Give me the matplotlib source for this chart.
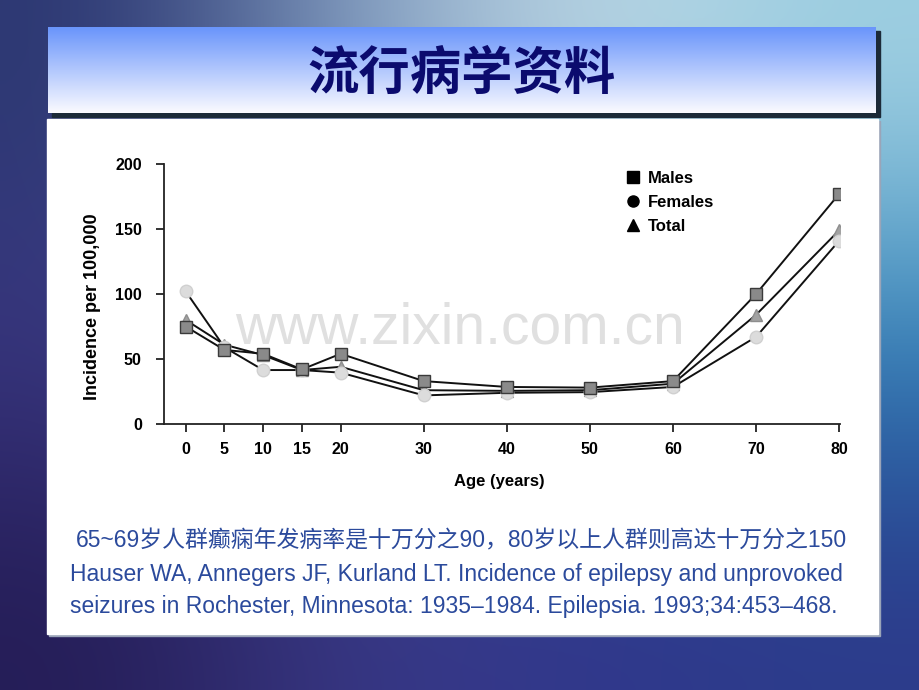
import numpy as np
import matplotlib.pyplot as plt
from matplotlib.patches import Rectangle
from matplotlib.lines import Line2D

# data (incidence per 100,000)
ages = [0, 5, 10, 15, 20, 30, 40, 50, 60, 70, 80]
males = [75, 57, 54, 42, 54, 33, 28.5, 28, 33, 100, 177]
females = [102, 59, 41.5, 41.5, 39.5, 22, 24, 24.5, 28.5, 67, 141]
total = [80, 61, 53, 41.5, 44, 26, 25.5, 26, 31, 84, 149]
yticks = [0, 50, 100, 150, 200]
series_labels = ["Males", "Females", "Total"]

title = "流行病学资料"
note = "65~69岁人群癫痫年发病率是十万分之90，80岁以上人群则高达十万分之150"
ref1 = "Hauser WA, Annegers JF, Kurland LT. Incidence of epilepsy and unprovoked"
ref2 = "seizures in Rochester, Minnesota: 1935–1984. Epilepsia. 1993;34:453–468."

W, H = 920, 690
fig = plt.figure(figsize=(W / 100, H / 100), dpi=100)

# slide background, pixel coordinates
bg = fig.add_axes([0, 0, 1, 1], zorder=0)
bg.axis("off")
grid = np.array([
    [[0x2a, 0x35, 0x70], [0x7f, 0x9c, 0xc0], [0xc6, 0xdd, 0xe8], [0x9f, 0xd0, 0xe2]],
    [[0x3a, 0x36, 0x82], [0x4a, 0x5a, 0x9a], [0x3a, 0x78, 0xb0], [0x2a, 0x80, 0xb8]],
    [[0x24, 0x1c, 0x55], [0x3a, 0x38, 0x85], [0x30, 0x34, 0x8a], [0x2c, 0x3a, 0x8a]],
]) / 255.0
bg.imshow(grid, extent=(0, W, H, 0), interpolation="bicubic", aspect="auto")

# title box with gradient + shadow
bg.add_patch(Rectangle((52, 31), 828, 86, color="#1c2a38", zorder=2))
grad = np.linspace(0, 1, 64)[:, None, None]
top_c = np.array([0x6a, 0x95, 0xfb]) / 255.0
bot_c = np.array([0xfa, 0xfa, 0xff]) / 255.0
box = np.clip(top_c * (1 - grad) + bot_c * grad, 0, 1)
bg.imshow(box, extent=(48, 876, 113, 27), aspect="auto", zorder=3)
bg.text(462, 73, title, ha="center", va="center", fontsize=37, fontweight="bold",
        color="#0b0b6e", family=["Noto Sans CJK SC"], zorder=4)

# white panel
bg.add_patch(Rectangle((49, 121), 831, 515, color="#9aa4b8", zorder=2))
bg.add_patch(Rectangle((47, 119), 831, 515, color="white", zorder=3))

# caption text
cap_font = ["Liberation Sans", "Noto Sans CJK SC"]
bg.text(76, 541, note, ha="left", va="center", fontsize=16.5, color="#2b4a9c",
        family=cap_font, zorder=4)
bg.text(70, 574, ref1, ha="left", va="center", fontsize=16.5, color="#2b4a9c",
        family=cap_font, zorder=4)
bg.text(70, 607, ref2, ha="left", va="center", fontsize=16.5, color="#2b4a9c",
        family=cap_font, zorder=4)

# watermark
bg.text(460, 328, "www.zixin.com.cn", ha="center", va="center", fontsize=41,
        color="#e0e0e0", family="Liberation Sans", zorder=4)
bg.set_xlim(0, W)
bg.set_ylim(H, 0)


# age axis in the source is stretched a bit below 20
def fwd(x):
    x = np.asarray(x, dtype=float)
    return np.where(x <= 20, x * 7.75, 155 + (x - 20) * 8.31)


def inv(y):
    y = np.asarray(y, dtype=float)
    return np.where(y <= 155, y / 7.75, 20 + (y - 155) / 8.31)


ax = fig.add_axes([164 / W, 1 - 424 / H, (840 - 164) / W, (424 - 164) / H], zorder=5)
ax.patch.set_alpha(0)
ax.set_xscale("function", functions=(fwd, inv))

ax.plot(ages, total, color="#111111", lw=1.4, marker="^", ms=9,
        mfc="#a2a2a2", mec="#8e8e8e", zorder=3)
ax.plot(ages, females, color="#111111", lw=1.4, marker="o", ms=9,
        mfc="#dcdcdc", mec="#d0d0d0", zorder=3)
ax.plot(ages, males, color="#111111", lw=1.4, marker="s", ms=8,
        mfc="#8a8a8a", mec="#3a3a3a", zorder=4)

ax.set_xlim(-2.8, 80.1)
ax.set_ylim(0, 200)
ax.set_xticks(ages)
ax.set_yticks(yticks)
ax.xaxis.set_minor_locator(plt.NullLocator())
for s in ["top", "right"]:
    ax.spines[s].set_visible(False)
for s in ["left", "bottom"]:
    ax.spines[s].set_linewidth(1.3)
    ax.spines[s].set_color("#222222")
ax.tick_params(axis="both", direction="out", length=6, width=1.3, color="#222222",
               labelsize=11.5)
ax.tick_params(axis="x", pad=7)
ax.tick_params(axis="y", pad=10)
ax.set_xticklabels([str(a) for a in ages])
for lbl in ax.get_xticklabels() + ax.get_yticklabels():
    lbl.set_fontweight("bold")
    lbl.set_family("Liberation Sans")

ax.set_xlabel("Age (years)", fontsize=12, fontweight="bold", family="Liberation Sans", va="center")
ax.xaxis.set_label_coords((499 - 164) / 676, (424 - 481) / 260)
ax.set_ylabel("Incidence per 100,000", fontsize=13, fontweight="bold", family="Liberation Sans",
              va="center")
ax.yaxis.set_label_coords((93 - 164) / 676, (424 - 307) / 260)

handles = [Line2D([], [], color="black", marker=m, ls="none", ms=8) for m in ["s", "o", "^"]]
ax.legend(handles, series_labels, loc="upper left", bbox_to_anchor=(626 / W, 1 - 171 / H),
          bbox_transform=fig.transFigure, frameon=False, handlelength=0.8,
          handletextpad=0.5, labelspacing=0.55, borderpad=0, borderaxespad=0,
          prop={"weight": "bold", "size": 12, "family": "Liberation Sans"})

fig.savefig("out.png", dpi=100)
